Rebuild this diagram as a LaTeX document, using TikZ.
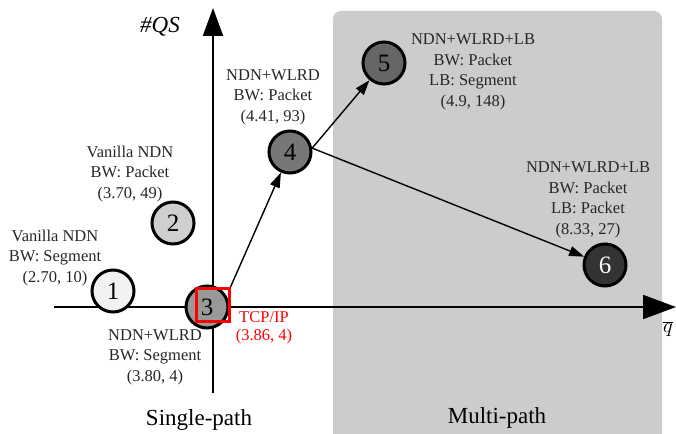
\documentclass[tikz,border=0pt]{standalone}
\usepackage{fontspec}
\setmainfont{Liberation Serif}
\usetikzlibrary{arrows.meta}
\definecolor{boxgray}{HTML}{CCCCCC}
\definecolor{cA}{HTML}{F2F2F2}
\definecolor{cB}{HTML}{CFCFCF}
\definecolor{cC}{HTML}{999999}
\definecolor{cD}{HTML}{777777}
\definecolor{cE}{HTML}{666666}
\definecolor{cF}{HTML}{333333}
\begin{document}
\begin{tikzpicture}[x=1pt,y=-1pt,
 lbl/.style={align=center,font=\fontsize{16.5}{20.5}\selectfont,inner sep=0pt,text=black!85},
 circ/.style={circle,draw=black,line width=3pt,minimum size=42pt,inner sep=0pt,font=\fontsize{25}{25}\selectfont},
 axis/.style={line width=2pt},
 conn/.style={line width=1.4pt,-{Triangle[length=15pt,width=10pt]}},
 big/.style={font=\fontsize{23}{23}\selectfont,inner sep=0pt}]
\useasboundingbox (0,0) rectangle (676,433);
\fill[boxgray,rounded corners=8pt] (333,11) rectangle (662,460);
% axes
\coordinate (xs) at (54,307);
\coordinate (xe) at (676,307);
\coordinate (ys) at (213,393);
\coordinate (ye) at (213,8);
\draw[axis,-{Triangle[length=33pt,width=24pt]}] (xs) -- (xe);
\draw[axis,-{Triangle[length=28pt,width=20pt]}] (ys) -- (ye);
% circles
\node[circ,fill=cA] (n1) at (113,291) {1};
\node[circ,fill=cB] (n2) at (173,223) {2};
\node[circ,fill=cC] (n3) at (207,307) {3};
\node[circ,fill=cD] (n4) at (290,152) {4};
\node[circ,fill=cE] (n5) at (384,63) {5};
\node[circ,fill=cF,text=white] (n6) at (605,265) {6};
\node[draw=red,line width=3pt,minimum size=33pt,inner sep=0pt] (tcp) at (212.5,305) {};
% connectors
\draw[conn] (tcp.north east) -- (n4);
\draw[conn] (n4.10) -- (n5);
\draw[conn] (n4.10) -- (n6);
% labels
\node[lbl] (l1) at (55,258) {Vanilla NDN\\BW: Segment\\(2.70, 10)};
\node[lbl] (l2) at (130,174) {Vanilla NDN\\BW: Packet\\(3.70, 49)};
\node[lbl] (l3) at (155,357) {NDN+WLRD\\BW: Segment\\(3.80, 4)};
\node[lbl] (l4) at (273,97) {NDN+WLRD\\BW: Packet\\(4.41, 93)};
\node[lbl] (l5) at (473,72) {NDN+WLRD+LB\\BW: Packet\\LB: Segment\\(4.9, 148)};
\node[lbl] (l6) at (588,200) {NDN+WLRD+LB\\BW: Packet\\LB: Packet\\(8.33, 27)};
\node[lbl,text=red,font=\fontsize{16.5}{17.5}\selectfont] (ltcp) at (264,328) {TCP/IP\\(3.86, 4)};
\node[big] (sp) at (199,420) {Single-path};
\node[big] (mp) at (497,418) {Multi-path};
\node[big,font=\itshape\fontsize{23}{23}\selectfont] (qs) at (160,27) {\#QS};
\node[inner sep=0pt,font=\fontsize{22}{22}\selectfont] (qb) at (668,329) {$\overline{q}$};
\end{tikzpicture}
\end{document}
